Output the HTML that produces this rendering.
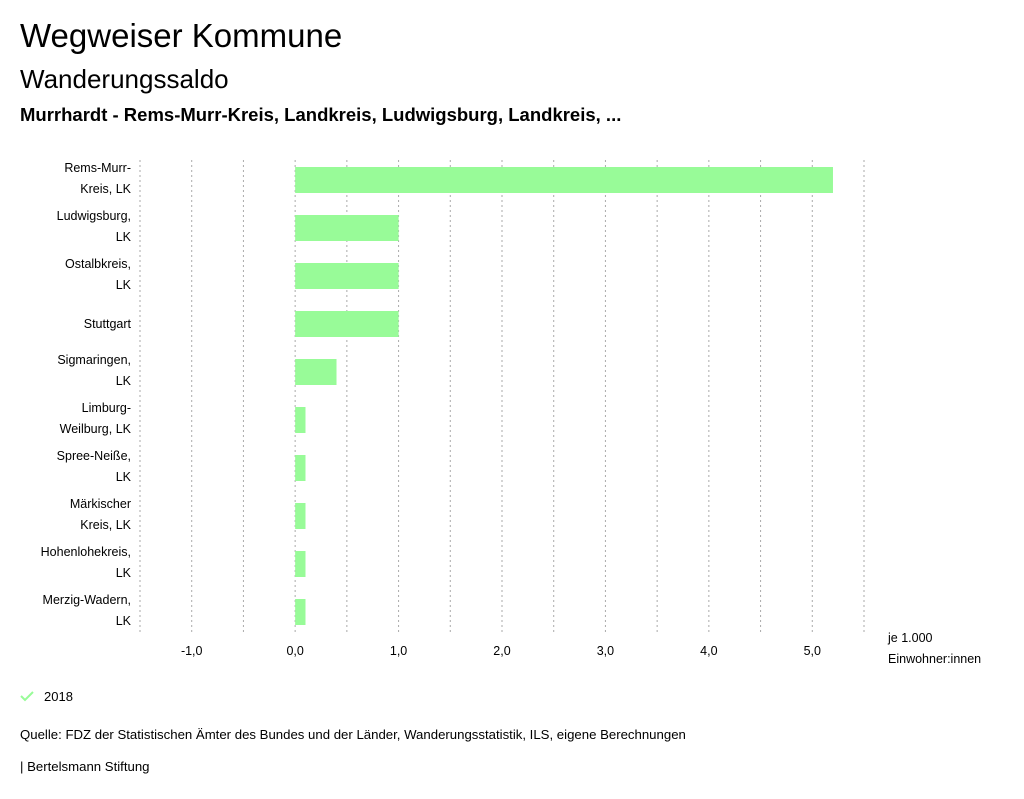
<!DOCTYPE html>
<html><head><meta charset="utf-8"><style>
body{margin:0;width:1024px;height:799px;background:#fff;font-family:"Liberation Sans",sans-serif;color:#000;position:relative;overflow:hidden}
.t{position:absolute;white-space:nowrap}
</style></head><body>
<div class="t" style="left:20px;top:17px;font-size:33px">Wegweiser Kommune</div>
<div class="t" style="left:20px;top:64px;font-size:26px">Wanderungssaldo</div>
<div class="t" style="left:20px;top:104px;font-size:18.5px;font-weight:bold">Murrhardt - Rems-Murr-Kreis, Landkreis, Ludwigsburg, Landkreis, ...</div>
<svg id="chart" width="1024" height="680" style="position:absolute;left:0;top:0"></svg>
<svg class="t" style="left:20px;top:690px" width="14" height="12"><path d="M1 6 L5 10 L13 2" stroke="#98fb98" stroke-width="2" fill="none"/></svg>
<div class="t" style="left:44px;top:689px;font-size:13px">2018</div>
<div class="t" style="left:20px;top:727px;font-size:13.2px">Quelle: FDZ der Statistischen Ämter des Bundes und der Länder, Wanderungsstatistik, ILS, eigene Berechnungen</div>
<div class="t" style="left:20px;top:759px;font-size:13.2px">| Bertelsmann Stiftung</div>
<script>
const categories=[["Rems-Murr-","Kreis, LK"],["Ludwigsburg,","LK"],["Ostalbkreis,","LK"],["Stuttgart"],["Sigmaringen,","LK"],["Limburg-","Weilburg, LK"],["Spree-Neiße,","LK"],["Märkischer","Kreis, LK"],["Hohenlohekreis,","LK"],["Merzig-Wadern,","LK"]];
const values=[5.2,1.0,1.0,1.0,0.4,0.1,0.1,0.1,0.1,0.1];
const ticks=[-1,0,1,2,3,4,5];
const tickLabels=["-1,0","0,0","1,0","2,0","3,0","4,0","5,0"];
const NS="http://www.w3.org/2000/svg";
const svgEl=document.getElementById('chart');
const x0=140,x1=864,dmin=-1.5,dmax=5.5,topY=156,rowH=48;
const X=v=>x0+(v-dmin)/(dmax-dmin)*(x1-x0);
const Y=i=>topY+i*rowH+rowH/2;
function mk(t,a){const e=document.createElementNS(NS,t);for(const k in a)e.setAttribute(k,a[k]);svgEl.appendChild(e);return e;}
for(let v=dmin;v<=dmax+1e-9;v+=0.5){
 const g=mk('line',{x1:X(v),x2:X(v),y1:160,y2:635,stroke:'#aaa','stroke-dasharray':'2,3','stroke-width':1});
 
 
}
ticks.forEach((v,i)=>{
 const t=mk('text',{x:X(v),y:655,'text-anchor':'middle','font-size':12.5,'font-family':'Liberation Sans, sans-serif'});
 t.textContent=tickLabels[i];
 
 
});
categories.forEach((c,i)=>{
 const b=mk('rect',{x:Math.min(X(0),X(values[i])),y:Y(i)-13,width:Math.abs(X(values[i])-X(0)),height:26,fill:'#98fb98'});
 
 
 const yy=c.length===1?[Y(i)+4]:[Y(i)-8,Y(i)+13];
 c.forEach((s,j)=>{
  const t=mk('text',{x:131,y:yy[j],'text-anchor':'end','font-size':12.5,'font-family':'Liberation Sans, sans-serif'});
  t.textContent=s;
  
  
 });
});
[["je 1.000",642],["Einwohner:innen",663]].forEach(([s,y])=>{
 const t=mk('text',{x:888,y:y,'font-size':12.5,'font-family':'Liberation Sans, sans-serif'});
 t.textContent=s;
 
 
});
</script>
</body></html>
